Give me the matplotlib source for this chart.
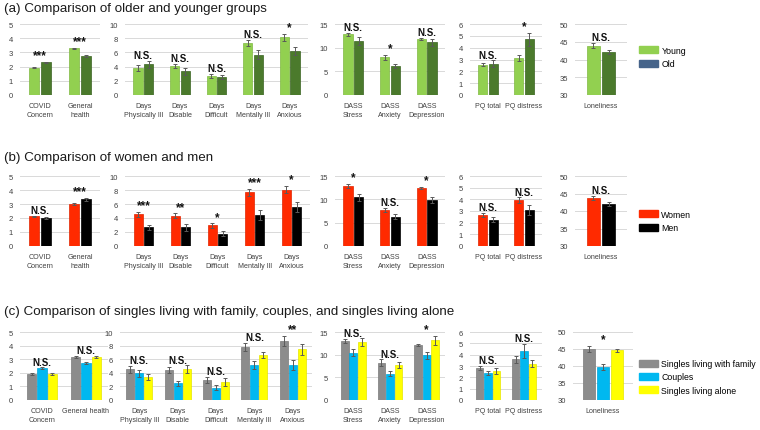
import matplotlib.pyplot as plt
import numpy as np
from matplotlib.patches import Patch

plt.rcParams["font.family"] = ["Liberation Sans", "DejaVu Sans"]

W, H = 760, 431

cats_days = ["Days\nPhysically Ill", "Days\nDisable", "Days\nDifficult",
             "Days\nMentally Ill", "Days\nAnxious"]
cats_dass = ["DASS\nStress", "DASS\nAnxiety", "DASS\nDepression"]
cats_pq = ["PQ total", "PQ distress"]
cats_lone = ["Loneliness"]
cats_first_ab = ["COVID\nConcern", "General\nhealth"]
cats_first_c = ["COVID\nConcern", "General health"]

# (a) young vs old
young = [1.93, 3.28, 3.8, 4.1, 2.65, 7.3, 8.1, 12.8, 8.0, 11.9, 2.57, 3.14, 43.9]
young_err = [0.04, 0.04, 0.4, 0.3, 0.3, 0.45, 0.5, 0.4, 0.5, 0.2, 0.12, 0.25, 0.8]
old = [2.29, 2.76, 4.3, 3.35, 2.55, 5.7, 6.2, 11.4, 6.2, 11.1, 2.63, 4.71, 42.2]
old_err = [0.05, 0.06, 0.5, 0.5, 0.3, 0.6, 0.6, 0.8, 0.4, 0.7, 0.3, 0.55, 0.6]
sig_a = ["***", "***", "N.S.", "N.S.", "N.S.", "N.S.", "*", "N.S.", "*", "N.S.",
         "N.S.", "*", "N.S."]

# (b) women vs men
women = [2.12, 3.02, 4.56, 4.3, 2.93, 7.67, 8.05, 12.9, 7.75, 12.46, 2.67, 3.92, 43.75]
women_err = [0.05, 0.06, 0.35, 0.35, 0.3, 0.5, 0.5, 0.4, 0.5, 0.15, 0.15, 0.25, 0.6]
men = [2.0, 3.35, 2.65, 2.65, 1.77, 4.4, 5.58, 10.4, 6.3, 9.8, 2.26, 3.09, 42.1]
men_err = [0.08, 0.1, 0.4, 0.5, 0.35, 0.7, 0.7, 0.7, 0.5, 0.6, 0.2, 0.45, 0.6]
sig_b = ["N.S.", "***", "***", "**", "*", "***", "*", "*", "N.S.", "*",
         "N.S.", "N.S.", "N.S."]

# (c) singles with family / couples / singles alone
family = [1.9, 3.19, 4.5, 4.4, 3.0, 7.8, 8.7, 13.0, 8.2, 12.1, 2.84, 3.6, 44.9]
family_err = [0.05, 0.07, 0.5, 0.5, 0.45, 0.6, 0.7, 0.5, 0.8, 0.15, 0.2, 0.3, 0.9]
couples = [2.33, 2.75, 3.9, 2.45, 1.8, 5.15, 5.15, 10.45, 5.8, 9.85, 2.4, 4.33, 39.65]
couples_err = [0.07, 0.08, 0.5, 0.4, 0.35, 0.6, 0.7, 0.7, 0.5, 0.7, 0.2, 0.6, 0.9]
alone = [1.9, 3.19, 3.4, 4.5, 2.65, 6.6, 7.45, 12.8, 7.7, 13.2, 2.57, 3.22, 44.6]
alone_err = [0.08, 0.08, 0.4, 0.6, 0.6, 0.4, 0.8, 0.8, 0.6, 1.0, 0.25, 0.35, 0.4]
sig_c = ["N.S.", "N.S.", "N.S.", "N.S.", "N.S.", "N.S.", "**", "N.S.", "N.S.", "*",
         "N.S.", "N.S.", "*"]

slices = [(0, 2), (2, 7), (7, 10), (10, 12), (12, 13)]
ylims = [(0, 5, 1), (0, 10, 2), (0, 15, 5), (0, 6, 1), (30, 50, 5)]

rows = [
    dict(title="(a) Comparison of older and younger groups",
         series=[(young, young_err, "#92D050", "#7fb842"),
                 (old, old_err, "#4B7A2C", "#3b6322")],
         legend=[("Young", "#92D050"), ("Old", "#46648A")],
         sig=sig_a, cats0=cats_first_ab, title_y=9, top=25, bottom=96,
         xs=[(20, 100), (125, 308), (335, 445), (470, 542), (575, 627)],
         leg_y=58),
    dict(title="(b) Comparison of women and men",
         series=[(women, women_err, "#FF2A00", "#e02500"),
                 (men, men_err, "#000000", "#000000")],
         legend=[("Women", "#FF2A00"), ("Men", "#000000")],
         sig=sig_b, cats0=cats_first_ab, title_y=158, top=177, bottom=247,
         xs=[(20, 100), (125, 310), (335, 445), (470, 542), (575, 627)],
         leg_y=222),
    dict(title="(c) Comparison of singles living with family, couples, and singles living alone",
         series=[(family, family_err, "#8C8C8C", "#7a7a7a"),
                 (couples, couples_err, "#00B8F0", "#00a4d8"),
                 (alone, alone_err, "#FFFF00", "#e6e600")],
         legend=[("Singles living with family", "#8C8C8C"),
                 ("Couples", "#00B8F0"), ("Singles living alone", "#FFFF00")],
         sig=sig_c, cats0=cats_first_c, title_y=312, top=333, bottom=401,
         xs=[(20, 108), (120, 312), (335, 445), (470, 542), (573, 633)],
         leg_y=378),
]

fig = plt.figure(figsize=(W / 100, H / 100), dpi=100)

for row in rows:
    fig.text(4 / W, 1 - row["title_y"] / H, row["title"], fontsize=9.6,
             va="center", ha="left", color="#1a1a1a")
    nser = len(row["series"])
    width = 0.25 if nser == 2 else 0.21
    step = 0.29 if nser == 2 else 0.235
    offsets = (np.arange(nser) - (nser - 1) / 2) * step
    for p, (s0, s1) in enumerate(slices):
        x0, x1 = row["xs"][p]
        ax = fig.add_axes([x0 / W, 1 - row["bottom"] / H,
                           (x1 - x0) / W, (row["bottom"] - row["top"]) / H])
        ylo, yhi, ystep = ylims[p]
        n = s1 - s0
        x = np.arange(n)
        tops = np.zeros(n)
        for k, (vals, errs, col, edge) in enumerate(row["series"]):
            v = np.array(vals[s0:s1])
            e = np.array(errs[s0:s1])
            ax.bar(x + offsets[k], v - ylo, width, bottom=ylo, color=col,
                   edgecolor=edge, linewidth=0.5, zorder=2)
            ax.errorbar(x + offsets[k], v, yerr=e, fmt="none", ecolor="#5a5a5a",
                        elinewidth=0.7, capsize=1.6, capthick=0.7, zorder=3)
            tops = np.maximum(tops, v + e)
        for i in range(n):
            s = row["sig"][s0 + i]
            ax.annotate(s, (x[i], tops[i]), xytext=(0, 0.5),
                        textcoords="offset points", ha="center", va="bottom",
                        fontsize=7 if s == "N.S." else 8.5, fontweight="bold",
                        color="#111111", annotation_clip=False)
        ax.set_xlim(-0.5, n - 0.5)
        ax.set_ylim(ylo, yhi)
        ax.set_yticks(np.arange(ylo, yhi + 0.1, ystep))
        ax.yaxis.grid(True, color="#d9d9d9", linewidth=0.7, zorder=0)
        ax.set_axisbelow(True)
        for sp in ax.spines.values():
            sp.set_visible(False)
        cats = [row["cats0"], cats_days, cats_dass, cats_pq, cats_lone][p]
        ax.set_xticks(x)
        ax.set_xticklabels(cats, fontsize=5.1, color="#404040", linespacing=1.35)
        ax.tick_params(axis="x", length=0, pad=5)
        ax.tick_params(axis="y", length=0, pad=5, labelsize=5.5,
                       labelcolor="#404040")

    handles = [Patch(facecolor=c, edgecolor=c) for _, c in row["legend"]]
    fig.legend(handles, [l for l, _ in row["legend"]],
               loc="center left", bbox_to_anchor=(639 / W, 1 - row["leg_y"] / H),
               frameon=False, fontsize=6.3, handlelength=2.2, handleheight=0.85,
               handletextpad=0.35, labelspacing=0.5, borderaxespad=0,
               borderpad=0)

fig.savefig("out.png", dpi=100)
